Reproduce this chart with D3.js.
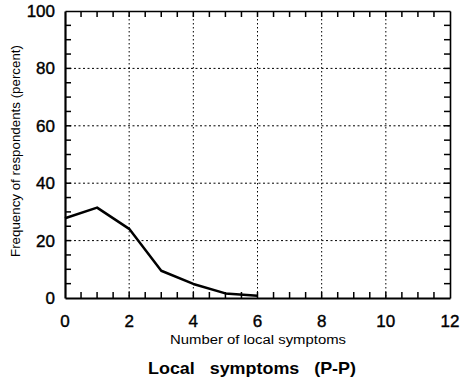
<!DOCTYPE html>
<html>
<head>
<script src="https://d3js.org/d3.v7.min.js"></script>
<style>
  body { margin: 0; background: #fff; }
  text { font-family: "Liberation Sans", Arial, sans-serif; fill: #000; }
</style>
</head>
<body>
<div id="chart"></div>
<script>
  // data
  const symptoms = [0, 1, 2, 3, 4, 5, 6];
  const frequency = [27.8, 31.5, 24.1, 9.5, 4.9, 1.6, 0.8];
  const xTicks = [0, 2, 4, 6, 8, 10, 12];
  const yTicks = [0, 20, 40, 60, 80, 100];

  const W = 471, H = 385;
  const margin = { top: 11, left: 65, right: 21, bottom: 87 };
  const width = W - margin.left - margin.right;
  const height = H - margin.top - margin.bottom;

  const svg = d3.select('#chart').append('svg')
    .attr('width', W).attr('height', H);

  const g = svg.append('g')
    .attr('transform', `translate(${margin.left},${margin.top})`);

  const x = d3.scaleLinear().domain([0, 12]).range([0, width]);
  const y = d3.scaleLinear().domain([0, 100]).range([height, 0]);

  /* dotted grid */
  g.selectAll('.vgrid').data(xTicks.filter(d => d > 0 && d < 12))
    .enter().append('line')
    .attr('x1', d => x(d)).attr('x2', d => x(d))
    .attr('y1', 0).attr('y2', height)
    .attr('stroke', '#000').attr('stroke-width', 1)
    .attr('stroke-dasharray', '1.5,2.5');

  g.selectAll('.hgrid').data(yTicks.filter(d => d > 0 && d < 100))
    .enter().append('line')
    .attr('x1', 0).attr('x2', width)
    .attr('y1', d => y(d)).attr('y2', d => y(d))
    .attr('stroke', '#000').attr('stroke-width', 1)
    .attr('stroke-dasharray', '2,2.5');

  /* frame */
  const axBottom = g.append('g').attr('transform', `translate(0,${height})`)
    .call(d3.axisBottom(x).tickValues([]).tickSizeOuter(0));
  const axTop = g.append('g')
    .call(d3.axisTop(x).tickValues([]).tickSizeOuter(0));
  const axLeft = g.append('g')
    .call(d3.axisLeft(y).tickValues([]).tickSizeOuter(0));
  const axRight = g.append('g').attr('transform', `translate(${width},0)`)
    .call(d3.axisRight(y).tickValues([]).tickSizeOuter(0));

  axBottom.select('.domain').attr('stroke', '#000').attr('stroke-width', 2.2);
  axLeft.select('.domain').attr('stroke', '#000').attr('stroke-width', 2.2);
  axTop.select('.domain').attr('stroke', '#000').attr('stroke-width', 1.6);
  axRight.select('.domain').attr('stroke', '#000').attr('stroke-width', 1.6);

  /* minor ticks, pointing inward */
  const minorX = d3.range(0.5, 12, 0.5);
  const minorY = d3.range(5, 100, 5);
  const tk = 6;

  const tickG = g.append('g').attr('stroke', '#000').attr('stroke-width', 1.5);
  tickG.selectAll('.tb').data(minorX).enter().append('line')
    .attr('x1', d => x(d)).attr('x2', d => x(d))
    .attr('y1', height).attr('y2', height - tk);
  tickG.selectAll('.tt').data(minorX).enter().append('line')
    .attr('x1', d => x(d)).attr('x2', d => x(d))
    .attr('y1', 0).attr('y2', tk);
  tickG.selectAll('.tl').data(minorY).enter().append('line')
    .attr('y1', d => y(d)).attr('y2', d => y(d))
    .attr('x1', 0).attr('x2', tk);
  tickG.selectAll('.tr').data(minorY).enter().append('line')
    .attr('y1', d => y(d)).attr('y2', d => y(d))
    .attr('x1', width).attr('x2', width - tk);

  /* tick labels */
  g.selectAll('.xlab').data(xTicks).enter().append('text')
    .attr('x', d => x(d)).attr('y', height + 29)
    .attr('text-anchor', 'middle')
    .style('font-size', '17px')
    .style('stroke', '#000').style('stroke-width', 0.4)
    .text(d => d);

  g.selectAll('.ylab').data(yTicks).enter().append('text')
    .attr('x', -10).attr('y', d => y(d) + 6)
    .attr('text-anchor', 'end')
    .style('font-size', '17px')
    .style('stroke', '#000').style('stroke-width', 0.4)
    .text(d => d);

  /* the line */
  const line = d3.line()
    .x((d, i) => x(symptoms[i]))
    .y(d => y(d));

  g.append('path')
    .datum(frequency)
    .attr('d', line)
    .attr('fill', 'none')
    .attr('stroke', '#000')
    .attr('stroke-width', 2.5)
    .attr('stroke-linejoin', 'round');

  /* labels */
  svg.append('text')
    .attr('x', 170).attr('y', 344)
    .attr('textLength', 176).attr('lengthAdjust', 'spacingAndGlyphs')
    .style('font-size', '12.5px')
    .text('Number of local symptoms');

  svg.append('text')
    .attr('transform', 'translate(20,257) rotate(-90)')
    .attr('textLength', 212).attr('lengthAdjust', 'spacingAndGlyphs')
    .style('font-size', '13px')
    .text('Frequency of respondents (percent)');

  svg.append('text')
    .attr('x', 148).attr('y', 374)
    .attr('textLength', 208).attr('lengthAdjust', 'spacingAndGlyphs')
    .style('font-size', '17px').style('font-weight', 'bold')
    .style('white-space', 'pre')
    .text('Local   symptoms   (P-P)');
</script>
</body>
</html>
